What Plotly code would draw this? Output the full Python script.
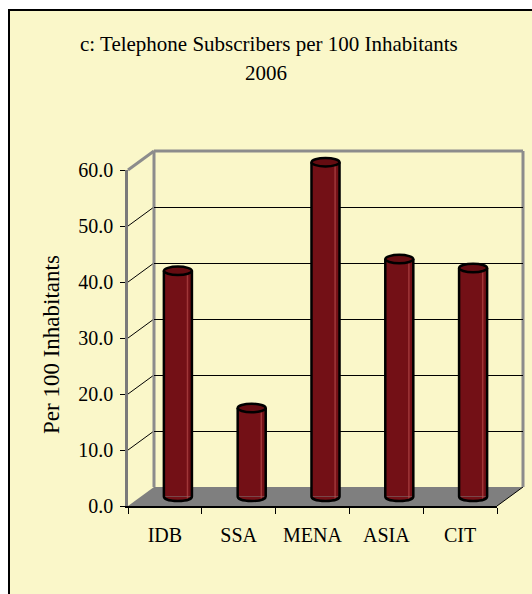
import plotly.graph_objects as go

# ---------------- data ----------------
categories = ["IDB", "SSA", "MENA", "ASIA", "CIT"]
values = [40.3, 15.8, 59.7, 42.4, 40.8]
y_ticks = [0, 10, 20, 30, 40, 50, 60]
title_line1 = "c: Telephone Subscribers per 100 Inhabitants"
title_line2 = "2006"
y_title = "Per 100 Inhabitants"

# ---------------- geometry (pixels) ----------------
W, H = 532, 594
FONT = "Liberation Serif, Times New Roman, serif"
BG = "#FAF7C9"
BAR = "#731016"
BAR_TOP = "#650c11"
FRAME = "#8c8c8c"

X_L, X_R = 128, 497          # front plot left/right
Y_0, Y_60 = 506, 170         # front y pixel of 0 and 60
DX, DY = 26, 19              # depth offset of back wall
YMAX = 60.0
unit = (Y_0 - Y_60) / YMAX   # px per unit


def fx(p):
    return p / W


def fy(p):
    return 1 - p / H


def ypx(v, depth=0.0):
    return Y_0 - v * unit - DY * depth


fig = go.Figure()

# subplot 1: back wall grid
fig.add_trace(go.Scatter(x=[], y=[], xaxis="x", yaxis="y", showlegend=False))
# subplot 2: front axes (ticks + labels)
fig.add_trace(go.Scatter(x=[], y=[], xaxis="x2", yaxis="y2", showlegend=False))
# subplot 3: bars at mid depth
n = len(categories)
xs = list(range(n))
BW = 0.38
fig.add_trace(go.Bar(
    x=xs, y=values, xaxis="x3", yaxis="y3", width=BW,
    marker=dict(color=BAR, line=dict(width=0)),
    customdata=categories, hovertemplate="%{customdata}: %{y:.1f}<extra></extra>",
    showlegend=False,
))

# bar axes range / domain
YB_LO, YB_HI = -3.0, 62.0
bar_y0px = ypx(0, 0.5)
bar_dom = [fy(bar_y0px - YB_LO * unit), fy(bar_y0px - YB_HI * unit)]

shapes = []
# outer yellow box with black border
shapes.append(dict(type="rect", xref="paper", yref="paper",
                   x0=fx(9), x1=fx(W + 20), y0=fy(10), y1=fy(H + 20),
                   fillcolor=BG, line=dict(color="black", width=2), layer="below"))
# floor
shapes.append(dict(type="path", xref="paper", yref="paper",
                   path=f"M {fx(X_L)},{fy(Y_0)} L {fx(X_R)},{fy(Y_0)} L {fx(X_R+DX)},{fy(Y_0-DY)} "
                        f"L {fx(X_L+DX)},{fy(Y_0-DY)} Z",
                   fillcolor="#7f7f7f", line=dict(width=0), layer="below"))
# left wall diagonals at gridlines
for t in y_ticks[1:-1]:
    shapes.append(dict(type="line", xref="paper", yref="paper",
                       x0=fx(X_L), y0=fy(ypx(t)), x1=fx(X_L + DX), y1=fy(ypx(t, 1)),
                       line=dict(color="black", width=1), layer="below"))
# floor right diagonal
shapes.append(dict(type="line", xref="paper", yref="paper",
                   x0=fx(X_R), y0=fy(Y_0), x1=fx(X_R + DX), y1=fy(Y_0 - DY),
                   line=dict(color="black", width=1), layer="below"))
# gray frame of walls
frame_lines = [
    (X_L, ypx(YMAX), X_L + DX, ypx(YMAX, 1)),
    (X_L + DX, ypx(YMAX, 1), X_L + DX, ypx(0, 1)),
    (X_L + DX, ypx(YMAX, 1), X_R + DX, ypx(YMAX, 1)),
    (X_R + DX, ypx(YMAX, 1), X_R + DX, ypx(0, 1)),
]
for a, b, c, d in frame_lines:
    shapes.append(dict(type="line", xref="paper", yref="paper",
                       x0=fx(a), y0=fy(b), x1=fx(c), y1=fy(d),
                       line=dict(color=FRAME, width=3), layer="below"))

# cylinder decorations (data coordinates of bar axes)
K = 0.8            # depth of bottom cap (units)
C = K * 4 / 3
E = 0.75           # half height of top ellipse (units)
for i, v in zip(xs, values):
    x0, x1 = i - BW / 2, i + BW / 2
    shapes.append(dict(type="path", xref="x3", yref="y3",
                       path=f"M {x0},0 C {x0},{-C} {x1},{-C} {x1},0 Z",
                       fillcolor=BAR, line=dict(width=0), layer="above"))
    shapes.append(dict(type="line", xref="x3", yref="y3",
                       x0=i + 0.13, x1=i + 0.13, y0=-0.4, y1=v,
                       line=dict(color="rgba(190,80,80,0.6)", width=1.5), layer="above"))
    shapes.append(dict(type="path", xref="x3", yref="y3",
                       path=f"M {x0},{v} L {x0},0 C {x0},{-C} {x1},{-C} {x1},0 L {x1},{v}",
                       fillcolor="rgba(0,0,0,0)", line=dict(color="black", width=2.5), layer="above"))
    shapes.append(dict(type="circle", xref="x3", yref="y3",
                       x0=x0, x1=x1, y0=v - E, y1=v + E,
                       fillcolor=BAR_TOP, line=dict(color="black", width=2.5), layer="above"))

annotations = [
    dict(text=title_line1, xref="paper", yref="paper", x=fx(269), y=fy(44),
         xanchor="center", yanchor="middle", showarrow=False,
         font=dict(family=FONT, size=21, color="black")),
    dict(text=title_line2, xref="paper", yref="paper", x=fx(266), y=fy(73),
         xanchor="center", yanchor="middle", showarrow=False,
         font=dict(family=FONT, size=21, color="black")),
    dict(text=y_title, xref="paper", yref="paper", x=fx(51), y=fy(345),
         xanchor="center", yanchor="middle", showarrow=False, textangle=-90,
         font=dict(family=FONT, size=23, color="black")),
]

fig.update_layout(
    template="none",
    width=W, height=H, autosize=False,
    margin=dict(l=0, r=0, t=0, b=0, pad=0, autoexpand=False),
    paper_bgcolor="white", plot_bgcolor="rgba(0,0,0,0)",
    showlegend=False, bargap=0,
    shapes=shapes, annotations=annotations,
    font=dict(family=FONT, size=20, color="black"),
    # back wall
    xaxis=dict(domain=[fx(X_L + DX), fx(X_R + DX)], range=[-0.5, n - 0.5],
               showgrid=False, zeroline=False, showline=False, showticklabels=False,
               ticks="", anchor="y", fixedrange=True, automargin=False),
    yaxis=dict(domain=[fy(ypx(0, 1)), fy(ypx(YMAX, 1))], range=[0, YMAX],
               tickmode="array", tickvals=y_ticks[1:-1], showgrid=True,
               gridcolor="black", gridwidth=1, zeroline=False, showline=False,
               showticklabels=False, ticks="", anchor="x", fixedrange=True, automargin=False),
    # front axes
    xaxis2=dict(domain=[fx(X_L), fx(X_R)], range=[-0.5, n - 0.5], anchor="y2",
                tickmode="array", tickvals=xs, ticktext=categories, ticks="",
                minor=dict(ticks="outside", ticklen=6, tickcolor="black", tickwidth=1,
                           tickmode="linear", tick0=-0.5, dtick=1, showgrid=False),
                showline=True, linecolor="black", linewidth=1.5,
                showgrid=False, zeroline=False, automargin=False, ticklabelstandoff=10,
                tickfont=dict(family=FONT, size=20, color="black"), fixedrange=True),
    yaxis2=dict(domain=[fy(Y_0), fy(Y_60)], range=[0, YMAX], anchor="x2",
                tickmode="array", tickvals=y_ticks, tickformat=".1f",
                ticks="outside", ticklen=5, tickcolor="black", tickwidth=1,
                showline=True, linecolor="#7a7a7a", linewidth=2.5,
                showgrid=False, zeroline=False, ticklabelstandoff=3, automargin=False,
                tickfont=dict(family=FONT, size=20, color="black"), fixedrange=True),
    # bars at half depth
    xaxis3=dict(domain=[fx(X_L + DX / 2), fx(X_R + DX / 2)], range=[-0.5, n - 0.5],
                anchor="y3", visible=False, fixedrange=True, automargin=False),
    yaxis3=dict(domain=bar_dom, range=[YB_LO, YB_HI], anchor="x3",
                visible=False, fixedrange=True, automargin=False),
)

fig.write_html(
    "out.html",
    config=dict(displayModeBar=False, responsive=False),
    post_script="document.body.style.margin='0';document.documentElement.style.overflow='hidden';",
)
